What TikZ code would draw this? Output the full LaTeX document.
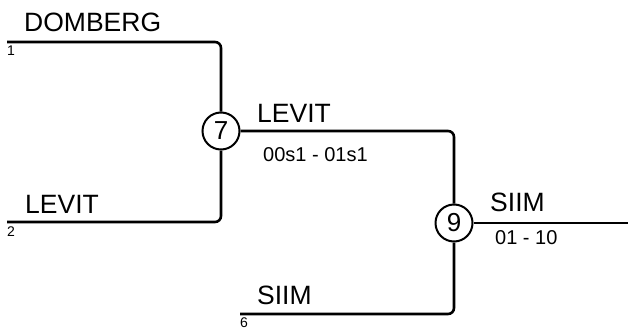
\documentclass[tikz,border=0pt]{standalone}
\usepackage{fontspec}
\setmainfont{Liberation Sans}
\begin{document}
\begin{tikzpicture}[x=1pt,y=-1pt,
  wire/.style={line width=2.6pt,rounded corners=6pt},
  match/.style={circle,draw,line width=2pt,minimum size=37pt,inner sep=0pt,font=\fontsize{26}{26}\selectfont},
  big/.style={anchor=base west,inner sep=0pt,font=\fontsize{26.5}{27}\selectfont},
  small/.style={anchor=base west,inner sep=0pt,font=\fontsize{20}{20}\selectfont},
  seed/.style={anchor=base west,inner sep=0pt,font=\fontsize{14}{14}\selectfont}]
\useasboundingbox (0,0) rectangle (628,329);
\node[match] (m7) at (221,131) {7};
\node[match] (m9) at (454,223) {9};
\coordinate (s1) at (7,42);
\coordinate (s2) at (7,222);
\coordinate (s6) at (240,314);
\coordinate (out) at (628,223);
\draw[wire] (s1) -| (m7.north);
\draw[wire] (s2) -| (m7.south);
\draw[wire] (m7.east) -| (m9.north);
\draw[wire] (s6) -| (m9.south);
\draw[wire] (m9.east) -- (out);
\node[big] (t1) at (24,31) {DOMBERG};
\node[seed] (n1) at (7,56) {1};
\node[big] (t2) at (25,213) {LEVIT};
\node[seed] (n2) at (7,236) {2};
\node[big] (t7) at (257,122) {LEVIT};
\node[small] (r7) at (263,161) {00s1 - 01s1};
\node[big] (t9) at (490,211) {SIIM};
\node[small] (r9) at (495,244) {01 - 10};
\node[big] (t6) at (257,304) {SIIM};
\node[seed] (n6) at (240,327) {6};
\end{tikzpicture}
\end{document}
